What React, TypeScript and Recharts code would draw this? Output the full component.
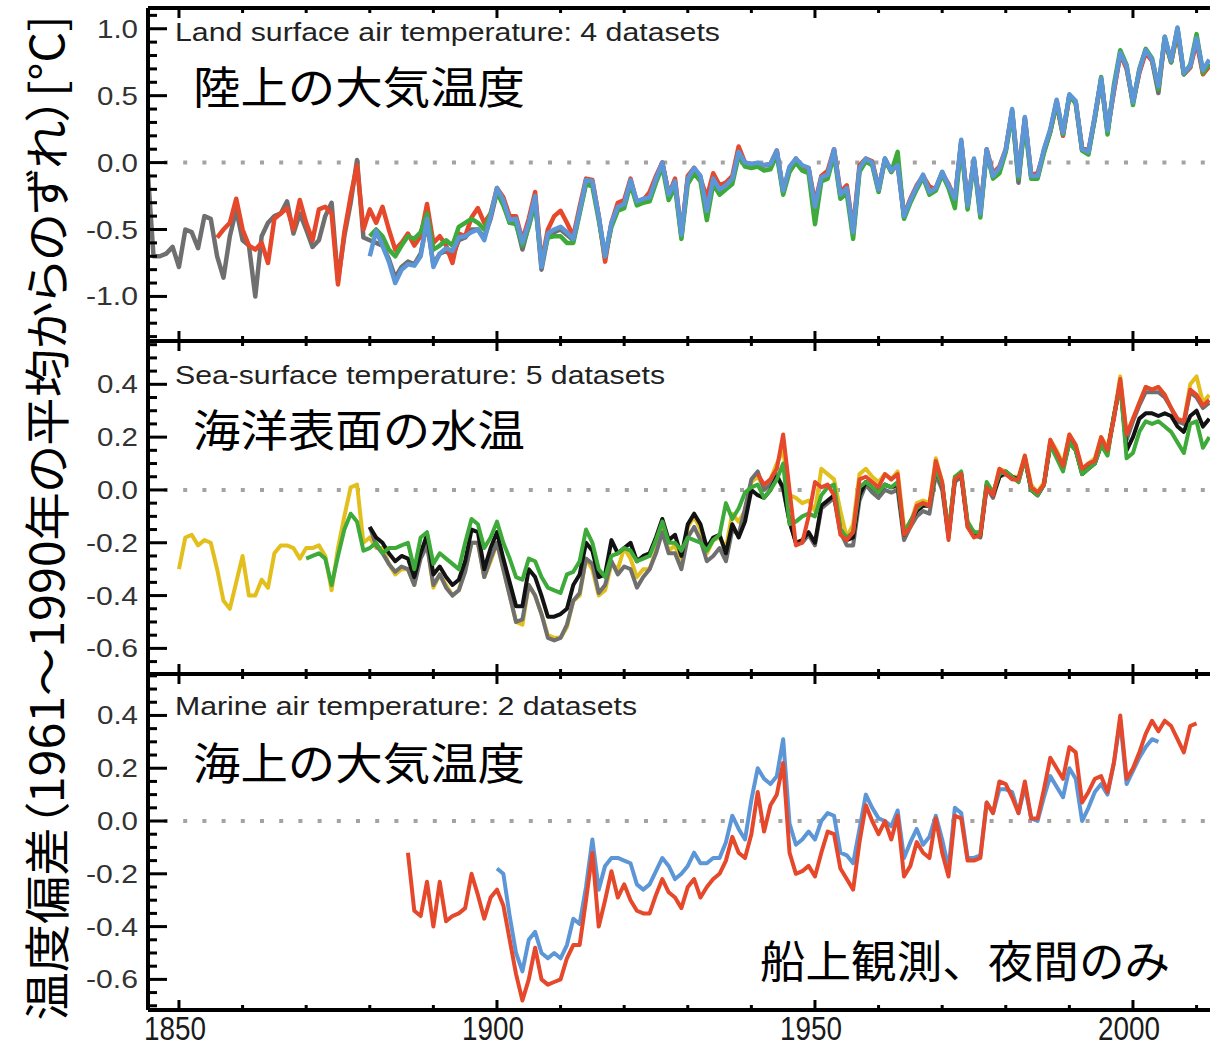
import { LineChart, Line, XAxis, YAxis, ReferenceLine } from 'recharts';

// ---- x axis ----
const years: number[] = Array.from({ length: 168 }, (_, i) => 1845 + i); // 1845..2012
const xTicks = [1850, 1860, 1870, 1880, 1890, 1900, 1910, 1920, 1930, 1940, 1950, 1960, 1970, 1980, 1990, 2000, 2010];

// ---- y ticks ----
const landTicks = [-1.3, -1.2, -1.1, -1.0, -0.9, -0.8, -0.7, -0.6, -0.5, -0.4, -0.3, -0.2, -0.1, 0, 0.1, 0.2, 0.3, 0.4, 0.5, 0.6, 0.7, 0.8, 0.9, 1.0, 1.1];
const sstTicks = [-0.65, -0.6, -0.55, -0.5, -0.45, -0.4, -0.35, -0.3, -0.25, -0.2, -0.15, -0.1, -0.05, 0, 0.05, 0.1, 0.15, 0.2, 0.25, 0.3, 0.35, 0.4, 0.45, 0.5, 0.55];
const nmatTicks = [-0.7, -0.65, -0.6, -0.55, -0.5, -0.45, -0.4, -0.35, -0.3, -0.25, -0.2, -0.15, -0.1, -0.05, 0, 0.05, 0.1, 0.15, 0.2, 0.25, 0.3, 0.35, 0.4, 0.45, 0.5, 0.55];

// ---- land surface air temperature (4 datasets) ----
const landGrayStart = 1845;
const landGray = [
  0.00, -0.70, -0.70, -0.68, -0.63, // 1845
  -0.78, -0.50, -0.52, -0.64, -0.40, -0.42, -0.70, -0.86, -0.55, -0.35, // 1850
  -0.58, -0.62, -1.00, -0.55, -0.45, -0.40, -0.38, -0.29, -0.53, -0.38, // 1860
  -0.50, -0.63, -0.58, -0.40, -0.30, -0.88, -0.55, -0.30, 0.02, -0.56, // 1870
  -0.58, -0.60, -0.62, -0.72, -0.86, -0.78, -0.74, -0.76, -0.68, -0.45, // 1880
  -0.76, -0.68, -0.66, -0.70, -0.58, -0.56, -0.50, -0.50, -0.56, -0.42, // 1890
  -0.22, -0.30, -0.45, -0.45, -0.65, -0.47, -0.27, -0.80, -0.55, -0.52, // 1900
  -0.50, -0.54, -0.58, -0.37, -0.15, -0.15, -0.41, -0.71, -0.46, -0.33, // 1910
  -0.31, -0.14, -0.30, -0.28, -0.25, -0.12, 0.00, -0.23, -0.15, -0.55, // 1920
  -0.12, -0.05, -0.11, -0.38, -0.13, -0.21, -0.17, -0.12, 0.07, 0.00, // 1930
  -0.01, -0.01, -0.02, -0.02, 0.08, -0.22, -0.04, 0.02, -0.03, -0.05, // 1940
  -0.36, -0.12, -0.09, 0.09, -0.25, -0.20, -0.53, -0.05, 0.02, 0.00, // 1950
  -0.21, 0.03, -0.07, -0.01, -0.41, -0.29, -0.19, -0.10, -0.23, -0.19, // 1960
  -0.07, -0.18, -0.28, 0.16, -0.33, 0.02, -0.38, 0.09, -0.11, -0.05, // 1970
  0.09, 0.39, -0.15, 0.33, -0.11, -0.11, 0.09, 0.24, 0.46, 0.21, // 1980
  0.50, 0.45, 0.09, 0.07, 0.34, 0.62, 0.23, 0.54, 0.81, 0.71, // 1990
  0.45, 0.68, 0.84, 0.76, 0.52, 0.93, 0.75, 1.00, 0.66, 0.71, // 2000
  0.93, 0.67, 0.72, // 2010
];

const landRedStart = 1856;
const landRed = [
  -0.56, -0.50, -0.45, -0.27, // 1856
  -0.50, -0.62, -0.65, -0.60, -0.75, -0.42, -0.38, -0.34, -0.50, -0.28, // 1860
  -0.45, -0.58, -0.35, -0.33, -0.38, -0.91, -0.52, -0.25, -0.02, -0.50, // 1870
  -0.35, -0.45, -0.33, -0.50, -0.65, -0.60, -0.53, -0.62, -0.55, -0.31, // 1880
  -0.60, -0.55, -0.62, -0.75, -0.53, -0.55, -0.41, -0.34, -0.45, -0.38, // 1890
  -0.19, -0.26, -0.40, -0.40, -0.58, -0.42, -0.22, -0.75, -0.50, -0.40, // 1900
  -0.36, -0.45, -0.55, -0.33, -0.12, -0.13, -0.40, -0.74, -0.45, -0.30, // 1910
  -0.28, -0.12, -0.30, -0.28, -0.22, -0.10, 0.00, -0.24, -0.12, -0.54, // 1920
  -0.10, -0.04, -0.12, -0.26, -0.08, -0.17, -0.15, -0.10, 0.12, 0.00, // 1930
  -0.03, -0.03, -0.02, -0.01, 0.09, -0.21, -0.06, 0.03, -0.05, -0.04, // 1940
  -0.30, -0.10, -0.06, 0.10, -0.22, -0.17, -0.50, -0.02, 0.03, 0.01, // 1950
  -0.19, 0.02, -0.06, 0.00, -0.39, -0.27, -0.17, -0.10, -0.18, -0.20, // 1960
  -0.08, -0.16, -0.27, 0.15, -0.30, 0.02, -0.36, 0.10, -0.08, -0.03, // 1970
  0.10, 0.38, -0.08, 0.33, -0.09, -0.08, 0.08, 0.23, 0.44, 0.20, // 1980
  0.50, 0.45, 0.11, 0.09, 0.33, 0.62, 0.25, 0.53, 0.81, 0.70, // 1990
  0.45, 0.67, 0.82, 0.76, 0.57, 0.91, 0.75, 0.97, 0.66, 0.71, // 2000
  0.90, 0.66, 0.72, // 2010
];

const landGreenStart = 1880;
const landGreen = [
  -0.55, -0.50, -0.55, -0.65, -0.70, -0.62, -0.55, -0.57, -0.52, -0.38, // 1880
  -0.65, -0.62, -0.58, -0.62, -0.48, -0.45, -0.42, -0.45, -0.50, -0.38, // 1890
  -0.22, -0.32, -0.45, -0.46, -0.62, -0.48, -0.30, -0.75, -0.56, -0.55, // 1900
  -0.55, -0.60, -0.60, -0.38, -0.16, -0.18, -0.43, -0.70, -0.48, -0.36, // 1910
  -0.34, -0.16, -0.32, -0.30, -0.29, -0.15, -0.03, -0.28, -0.18, -0.57, // 1920
  -0.16, -0.08, -0.14, -0.43, -0.16, -0.24, -0.20, -0.16, 0.05, -0.03, // 1930
  -0.04, -0.03, -0.06, -0.05, 0.06, -0.24, -0.07, 0.00, -0.06, -0.08, // 1940
  -0.46, -0.14, -0.12, 0.06, -0.27, -0.23, -0.57, -0.07, 0.01, -0.02, // 1950
  -0.22, 0.02, -0.07, 0.08, -0.42, -0.30, -0.20, -0.11, -0.24, -0.21, // 1960
  -0.09, -0.19, -0.34, 0.14, -0.35, 0.01, -0.41, 0.08, -0.12, -0.08, // 1970
  0.08, 0.37, -0.12, 0.29, -0.12, -0.12, 0.07, 0.23, 0.45, 0.21, // 1980
  0.50, 0.44, 0.09, 0.06, 0.33, 0.64, 0.21, 0.58, 0.84, 0.73, // 1990
  0.43, 0.70, 0.85, 0.78, 0.55, 0.94, 0.75, 1.00, 0.66, 0.73, // 2000
  0.96, 0.67, 0.74, // 2010
];

const landBlueStart = 1880;
const landBlue = [
  -0.70, -0.51, -0.62, -0.74, -0.90, -0.80, -0.76, -0.77, -0.70, -0.42, // 1880
  -0.78, -0.68, -0.64, -0.66, -0.56, -0.55, -0.52, -0.50, -0.58, -0.40, // 1890
  -0.19, -0.28, -0.43, -0.42, -0.60, -0.45, -0.25, -0.78, -0.53, -0.50, // 1900
  -0.48, -0.52, -0.57, -0.36, -0.13, -0.14, -0.40, -0.70, -0.45, -0.33, // 1910
  -0.31, -0.13, -0.29, -0.27, -0.26, -0.12, 0.00, -0.24, -0.14, -0.54, // 1920
  -0.12, -0.04, -0.10, -0.36, -0.12, -0.20, -0.17, -0.12, 0.08, 0.00, // 1930
  -0.01, 0.00, -0.02, -0.01, 0.09, -0.21, -0.03, 0.03, -0.02, -0.04, // 1940
  -0.33, -0.11, -0.09, 0.10, -0.24, -0.19, -0.52, -0.04, 0.03, 0.00, // 1950
  -0.20, 0.03, -0.06, -0.02, -0.40, -0.28, -0.18, -0.09, -0.22, -0.19, // 1960
  -0.07, -0.17, -0.27, 0.17, -0.32, 0.03, -0.38, 0.10, -0.10, -0.04, // 1970
  0.10, 0.40, -0.10, 0.34, -0.10, -0.10, 0.10, 0.25, 0.47, 0.22, // 1980
  0.51, 0.46, 0.10, 0.08, 0.35, 0.63, 0.24, 0.55, 0.82, 0.72, // 1990
  0.45, 0.69, 0.84, 0.77, 0.57, 0.94, 0.76, 1.01, 0.67, 0.72, // 2000
  0.93, 0.69, 0.77, // 2010
];

// ---- sea-surface temperature (5 datasets) ----
const sstYellowStart = 1850;
const sstYellow = [
  -0.30, -0.18, -0.17, -0.21, -0.19, -0.20, -0.30, -0.42, -0.45, -0.35, // 1850
  -0.25, -0.40, -0.40, -0.34, -0.37, -0.24, -0.21, -0.21, -0.22, -0.26, // 1860
  -0.22, -0.22, -0.21, -0.25, -0.38, -0.22, -0.10, 0.01, 0.02, -0.20, // 1870
  -0.18, -0.22, -0.22, -0.28, -0.32, -0.30, -0.30, -0.36, -0.22, -0.20, // 1880
  -0.37, -0.32, -0.36, -0.40, -0.38, -0.30, -0.20, -0.20, -0.33, -0.27, // 1890
  -0.20, -0.30, -0.40, -0.50, -0.51, -0.36, -0.40, -0.47, -0.55, -0.56, // 1900
  -0.56, -0.52, -0.42, -0.40, -0.26, -0.30, -0.40, -0.38, -0.28, -0.30, // 1910
  -0.22, -0.26, -0.33, -0.30, -0.30, -0.23, -0.15, -0.23, -0.21, -0.28, // 1920
  -0.14, -0.10, -0.15, -0.24, -0.19, -0.18, -0.22, -0.09, -0.12, -0.08, // 1930
  0.03, 0.05, 0.01, 0.04, 0.10, 0.15, -0.02, -0.03, -0.05, -0.04, // 1940
  -0.08, 0.08, 0.06, 0.04, -0.08, -0.18, -0.13, 0.06, 0.08, 0.05, // 1950
  0.03, 0.06, 0.04, 0.07, -0.14, -0.13, -0.05, -0.04, -0.05, 0.12, // 1960
  0.03, -0.17, 0.05, 0.06, -0.13, -0.17, -0.18, 0.02, -0.02, 0.08, // 1970
  0.07, 0.05, 0.05, 0.13, 0.02, -0.01, 0.03, 0.19, 0.15, 0.10, // 1980
  0.21, 0.17, 0.08, 0.10, 0.12, 0.20, 0.16, 0.28, 0.43, 0.21, // 1990
  0.27, 0.33, 0.39, 0.38, 0.39, 0.36, 0.31, 0.26, 0.26, 0.40, // 2000
  0.43, 0.33, 0.36, // 2010
];

const sstGrayStart = 1880;
const sstGray = [
  -0.14, -0.21, -0.24, -0.28, -0.31, -0.29, -0.30, -0.36, -0.26, -0.21, // 1880
  -0.36, -0.32, -0.37, -0.40, -0.38, -0.31, -0.20, -0.20, -0.33, -0.26, // 1890
  -0.20, -0.30, -0.40, -0.50, -0.49, -0.36, -0.40, -0.47, -0.56, -0.57, // 1900
  -0.56, -0.51, -0.42, -0.39, -0.26, -0.28, -0.39, -0.36, -0.27, -0.32, // 1910
  -0.29, -0.30, -0.37, -0.33, -0.30, -0.24, -0.16, -0.24, -0.24, -0.30, // 1920
  -0.18, -0.14, -0.19, -0.27, -0.25, -0.22, -0.27, -0.15, -0.17, -0.07, // 1930
  0.04, 0.07, 0.00, 0.02, 0.06, 0.00, -0.12, -0.20, -0.20, -0.17, // 1940
  -0.21, -0.07, -0.05, -0.03, -0.16, -0.21, -0.21, -0.04, 0.02, -0.01, // 1950
  -0.03, 0.00, -0.01, 0.00, -0.19, -0.14, -0.10, -0.08, -0.09, 0.06, // 1960
  0.00, -0.18, 0.03, 0.05, -0.14, -0.17, -0.18, 0.01, -0.03, 0.05, // 1970
  0.06, 0.05, 0.03, 0.12, 0.00, -0.02, 0.02, 0.18, 0.14, 0.09, // 1980
  0.20, 0.16, 0.07, 0.09, 0.11, 0.19, 0.15, 0.27, 0.41, 0.19, // 1990
  0.26, 0.32, 0.37, 0.37, 0.37, 0.35, 0.31, 0.26, 0.25, 0.37, // 2000
  0.35, 0.31, 0.33, // 2010
];

const sstBlackStart = 1880;
const sstBlack = [
  -0.14, -0.18, -0.20, -0.24, -0.27, -0.25, -0.26, -0.33, -0.24, -0.17, // 1880
  -0.32, -0.29, -0.33, -0.36, -0.34, -0.27, -0.15, -0.16, -0.30, -0.22, // 1890
  -0.16, -0.26, -0.35, -0.44, -0.44, -0.30, -0.33, -0.40, -0.48, -0.48, // 1900
  -0.47, -0.45, -0.36, -0.32, -0.20, -0.23, -0.33, -0.32, -0.19, -0.24, // 1910
  -0.22, -0.20, -0.27, -0.25, -0.24, -0.18, -0.11, -0.19, -0.17, -0.25, // 1920
  -0.13, -0.09, -0.13, -0.22, -0.18, -0.17, -0.24, -0.13, -0.18, -0.12, // 1930
  0.00, -0.02, -0.03, 0.00, 0.05, 0.01, -0.12, -0.20, -0.19, -0.16, // 1940
  -0.20, -0.06, -0.04, -0.02, -0.15, -0.19, -0.18, -0.02, 0.03, 0.01, // 1950
  -0.01, 0.02, 0.01, 0.02, -0.17, -0.12, -0.08, -0.06, -0.06, 0.08, // 1960
  0.02, -0.17, 0.04, 0.06, -0.13, -0.16, -0.17, 0.02, -0.02, 0.05, // 1970
  0.07, 0.05, 0.04, 0.12, 0.00, -0.02, 0.02, 0.17, 0.13, 0.08, // 1980
  0.18, 0.15, 0.06, 0.08, 0.10, 0.17, 0.14, 0.28, 0.40, 0.15, // 1990
  0.20, 0.27, 0.29, 0.29, 0.28, 0.29, 0.28, 0.24, 0.22, 0.28, // 2000
  0.30, 0.24, 0.27, // 2010
];

const sstGreenStart = 1870;
const sstGreen = [
  -0.26, -0.25, -0.24, -0.26, -0.36, -0.25, -0.15, -0.09, -0.12, -0.23, // 1870
  -0.22, -0.20, -0.24, -0.22, -0.22, -0.21, -0.20, -0.30, -0.18, -0.16, // 1880
  -0.28, -0.24, -0.26, -0.28, -0.30, -0.20, -0.11, -0.13, -0.22, -0.18, // 1890
  -0.12, -0.20, -0.26, -0.33, -0.34, -0.26, -0.27, -0.33, -0.37, -0.38, // 1900
  -0.39, -0.32, -0.31, -0.27, -0.15, -0.20, -0.30, -0.33, -0.25, -0.24, // 1910
  -0.22, -0.23, -0.27, -0.26, -0.25, -0.19, -0.12, -0.20, -0.20, -0.23, // 1920
  -0.18, -0.19, -0.20, -0.23, -0.19, -0.17, -0.05, -0.11, -0.07, -0.01, // 1930
  0.01, 0.02, -0.03, 0.00, 0.04, 0.10, -0.13, -0.12, -0.10, -0.09, // 1940
  -0.10, -0.02, 0.01, 0.02, -0.15, -0.18, -0.16, 0.01, 0.03, 0.01, // 1950
  -0.01, 0.02, 0.01, 0.03, -0.16, -0.12, -0.07, -0.05, -0.06, 0.08, // 1960
  0.02, -0.16, 0.05, 0.07, -0.12, -0.16, -0.16, 0.03, -0.01, 0.06, // 1970
  0.07, 0.05, 0.03, 0.12, 0.00, -0.02, 0.02, 0.17, 0.12, 0.07, // 1980
  0.18, 0.15, 0.06, 0.08, 0.10, 0.17, 0.13, 0.28, 0.40, 0.12, // 1990
  0.14, 0.22, 0.26, 0.25, 0.26, 0.24, 0.22, 0.18, 0.14, 0.25, // 2000
  0.26, 0.16, 0.20, // 2010
];

const sstRedStart = 1941;
const sstRed = [
  0.06, 0.02, 0.04, 0.08, 0.21, 0.00, -0.21, -0.20, -0.10, // 1941
  0.03, 0.01, 0.02, -0.02, -0.17, -0.19, -0.16, 0.04, 0.05, 0.03, // 1950
  0.01, 0.06, 0.04, 0.06, -0.17, -0.14, -0.06, -0.05, -0.06, 0.11, // 1960
  0.03, -0.19, 0.04, 0.06, -0.14, -0.18, -0.17, 0.01, -0.02, 0.08, // 1970
  0.06, 0.04, 0.04, 0.13, 0.01, -0.01, 0.02, 0.19, 0.14, 0.09, // 1980
  0.21, 0.17, 0.08, 0.10, 0.11, 0.20, 0.15, 0.27, 0.42, 0.21, // 1990
  0.27, 0.33, 0.39, 0.38, 0.39, 0.36, 0.31, 0.27, 0.26, 0.38, // 2000
  0.36, 0.32, 0.34, // 2010
];

// ---- marine air temperature (2 datasets) ----
const nmatRedStart = 1886;
const nmatRed = [
  -0.12, -0.34, -0.36, -0.23, // 1886
  -0.40, -0.23, -0.38, -0.36, -0.35, -0.33, -0.20, -0.28, -0.37, -0.29, // 1890
  -0.26, -0.32, -0.45, -0.58, -0.68, -0.60, -0.48, -0.60, -0.62, -0.61, // 1900
  -0.60, -0.52, -0.47, -0.47, -0.30, -0.12, -0.40, -0.30, -0.19, -0.29, // 1910
  -0.24, -0.30, -0.34, -0.35, -0.35, -0.28, -0.22, -0.27, -0.29, -0.33, // 1920
  -0.25, -0.22, -0.29, -0.25, -0.22, -0.20, -0.15, -0.06, -0.12, -0.14, // 1930
  -0.05, 0.11, -0.04, 0.06, 0.10, 0.22, -0.12, -0.20, -0.19, -0.17, // 1940
  -0.21, -0.12, -0.04, -0.05, -0.18, -0.22, -0.26, -0.08, 0.06, 0.00, // 1950
  -0.05, 0.00, -0.07, 0.02, -0.21, -0.17, -0.08, -0.12, -0.14, 0.01, // 1960
  -0.12, -0.21, 0.02, 0.01, -0.15, -0.15, -0.14, 0.07, 0.03, 0.15, // 1970
  0.14, 0.09, 0.03, 0.15, 0.01, 0.01, 0.12, 0.24, 0.20, 0.16, // 1980
  0.28, 0.26, 0.07, 0.11, 0.16, 0.17, 0.11, 0.22, 0.40, 0.16, // 1990
  0.20, 0.26, 0.33, 0.38, 0.34, 0.38, 0.36, 0.31, 0.26, 0.36, // 2000
  0.37, // 2010
];

const nmatBlueStart = 1900;
const nmatBlue = [
  -0.18, -0.20, -0.36, -0.50, -0.57, -0.45, -0.42, -0.50, -0.52, -0.50, // 1900
  -0.52, -0.47, -0.37, -0.39, -0.25, -0.07, -0.26, -0.17, -0.14, -0.14, // 1910
  -0.15, -0.16, -0.24, -0.26, -0.24, -0.19, -0.14, -0.17, -0.22, -0.20, // 1920
  -0.17, -0.12, -0.16, -0.16, -0.14, -0.14, -0.08, 0.02, -0.03, -0.07, // 1930
  0.08, 0.20, 0.16, 0.14, 0.17, 0.31, -0.01, -0.09, -0.07, -0.04, // 1940
  -0.07, 0.00, 0.03, 0.02, -0.12, -0.13, -0.16, -0.03, 0.10, 0.05, // 1950
  0.01, 0.00, -0.02, 0.04, -0.14, -0.08, -0.03, -0.09, -0.06, 0.02, // 1960
  -0.07, -0.18, 0.05, 0.03, -0.14, -0.14, -0.13, 0.07, 0.03, 0.12, // 1970
  0.12, 0.11, 0.03, 0.13, 0.01, 0.00, 0.09, 0.17, 0.13, 0.09, // 1980
  0.20, 0.16, 0.00, 0.05, 0.11, 0.14, 0.10, 0.22, 0.38, 0.14, // 1990
  0.19, 0.24, 0.28, 0.31, 0.30, // 2000
];

const at = (start: number, vals: number[], year: number) => {
  const i = year - start;
  return i >= 0 && i < vals.length ? vals[i] : null;
};

const landData = years.map((year) => ({
  year,
  gray: at(landGrayStart, landGray, year),
  red: at(landRedStart, landRed, year),
  green: at(landGreenStart, landGreen, year),
  blue: at(landBlueStart, landBlue, year),
}));

const sstData = years.map((year) => ({
  year,
  yellow: at(sstYellowStart, sstYellow, year),
  gray: at(sstGrayStart, sstGray, year),
  black: at(sstBlackStart, sstBlack, year),
  green: at(sstGreenStart, sstGreen, year),
  red: at(sstRedStart, sstRed, year),
}));

const nmatData = years.map((year) => ({
  year,
  blue: at(nmatBlueStart, nmatBlue, year),
  red: at(nmatRedStart, nmatRed, year),
}));

const RED = '#e5482b';
const GREEN = '#3daa3a';
const BLUE = '#5c96d6';
const GRAY = '#6f6f6f';
const YELLOW = '#e3bf1e';
const BLACK = '#121212';

const CHART_W = 1240;
const Y_AXIS_W = 148;
const X_DOMAIN: [number, number] = [1845.13, 2015.1];
const LATIN = '"Liberation Sans", Arial, sans-serif';
const JP = '"Noto Sans CJK JP", sans-serif';

// panel layout: plot top, plot height, y domain, ticks, major step
const LAND = { top: 8, h: 333, domain: [-1.333, 1.155] as [number, number], ticks: landTicks, step: 0.5 };
const SST = { top: 341, h: 333, domain: [-0.697, 0.564] as [number, number], ticks: sstTicks, step: 0.2 };
const NMAT = { top: 674, h: 336, domain: [-0.716, 0.557] as [number, number], ticks: nmatTicks, step: 0.2 };

const isMajor = (v: number, step: number) => Math.abs(v / step - Math.round(v / step)) < 1e-6;

const BottomTick = (props: any) => {
  const { x, y, payload, labels } = props;
  const major = payload.value % 50 === 0;
  return (
    <g>
      <path d={`M${x},${y}V${y - (major ? 10 : 5)}`} stroke="#000" strokeWidth={3} />
      {labels && major && (
        <text x={x - 4} y={y + 30} textAnchor="middle" fontSize={33}
          fontFamily='"Liberation Sans Narrow", "Arial Narrow", "Liberation Sans", sans-serif'
          fill="#1a1a1a" textLength={62} lengthAdjust="spacingAndGlyphs">
          {payload.value}
        </text>
      )}
    </g>
  );
};

const TopTick = (props: any) => {
  const { x, y, payload } = props;
  const major = payload.value % 50 === 0;
  return <path d={`M${x},${y}V${y + (major ? 10 : 5)}`} stroke="#000" strokeWidth={3} />;
};

const LeftLabel = (props: any) => {
  const { y, payload, step } = props;
  const v: number = payload.value;
  if (!isMajor(v, step)) return <g />;
  const label = v.toFixed(1);
  return (
    <text x={138} y={y} dy="0.36em" textAnchor="end" fontSize={25} fontFamily={LATIN} fill="#333"
      textLength={label.length === 3 ? 41 : 52} lengthAdjust="spacingAndGlyphs">
      {label}
    </text>
  );
};

// inward y tick marks, placed with the same linear mapping as the panel's y axis
const YTickMarks = ({ p }: { p: typeof LAND }) => {
  const [lo, hi] = p.domain;
  return (
    <g>
      {p.ticks.map((v) => {
        const y = p.top + ((hi - v) / (hi - lo)) * p.h;
        const len = isMajor(v, p.step) ? 19 : 9;
        return <rect key={v} x={Y_AXIS_W - 1} y={y - 1.5} width={len + 1} height={3} fill="#000" />;
      })}
    </g>
  );
};

type SeriesDef = { key: string; color: string; width: number };

const Panel = (props: { p: typeof LAND; data: any[]; lines: SeriesDef[]; bottomLabels: boolean }) => {
  const { p, data, lines, bottomLabels } = props;
  const xAxisH = bottomLabels ? 38 : 1;
  const mb = bottomLabels ? 0 : 3;
  const height = 3 + 1 + p.h + xAxisH + mb;
  const frame = { stroke: '#000', strokeWidth: 4 };
  return (
    <div style={{ position: 'absolute', left: 0, top: p.top - 4 }}>
      <LineChart width={CHART_W} height={height} data={data} margin={{ top: 3, right: 11, bottom: mb, left: 0 }}>
        <XAxis dataKey="year" type="number" domain={X_DOMAIN} allowDataOverflow ticks={xTicks} interval={0}
          height={xAxisH} tickSize={0} tickMargin={0} axisLine={frame} tickLine={false}
          tick={(t: any) => <BottomTick {...t} labels={bottomLabels} />} />
        <XAxis xAxisId="top" orientation="top" dataKey="year" type="number" domain={X_DOMAIN} allowDataOverflow
          ticks={xTicks} interval={0} height={1} tickSize={0} tickMargin={0} axisLine={frame} tickLine={false}
          tick={(t: any) => <TopTick {...t} />} />
        <YAxis type="number" domain={p.domain} allowDataOverflow ticks={p.ticks} interval={0} width={Y_AXIS_W}
          tickSize={0} tickMargin={0} axisLine={frame} tickLine={false}
          tick={(t: any) => <LeftLabel {...t} step={p.step} />} />
        <ReferenceLine y={0} stroke="#a3a3a3" strokeWidth={4} strokeDasharray="4 15.2" strokeDashoffset={-16} />
        {lines.map((s) => (
          <Line key={s.key} type="linear" dataKey={s.key} stroke={s.color} strokeWidth={s.width}
            strokeLinejoin="round" dot={false} activeDot={false} isAnimationActive={false} />
        ))}
      </LineChart>
    </div>
  );
};

export default function App() {
  return (
    <div style={{ position: 'absolute', left: 0, top: 0, width: 1210, height: 1048, overflow: 'hidden', background: '#fff' }}>
      <Panel p={LAND} data={landData} bottomLabels={false}
        lines={[
          { key: 'gray', color: GRAY, width: 4.5 },
          { key: 'red', color: RED, width: 4.5 },
          { key: 'green', color: GREEN, width: 4.5 },
          { key: 'blue', color: BLUE, width: 4.5 },
        ]} />
      <Panel p={SST} data={sstData} bottomLabels={false}
        lines={[
          { key: 'yellow', color: YELLOW, width: 4 },
          { key: 'gray', color: GRAY, width: 4 },
          { key: 'black', color: BLACK, width: 4 },
          { key: 'green', color: GREEN, width: 4 },
          { key: 'red', color: RED, width: 4 },
        ]} />
      <Panel p={NMAT} data={nmatData} bottomLabels
        lines={[
          { key: 'blue', color: BLUE, width: 4 },
          { key: 'red', color: RED, width: 4 },
        ]} />

      <svg width={1210} height={1048} style={{ position: 'absolute', left: 0, top: 0, pointerEvents: 'none' }}>
        <YTickMarks p={LAND} />
        <YTickMarks p={SST} />
        <YTickMarks p={NMAT} />

        <text x={175} y={41} fontSize={26} fontFamily={LATIN} fill="#222" textLength={545} lengthAdjust="spacingAndGlyphs">
          Land surface air temperature: 4 datasets
        </text>
        <text x={175} y={384} fontSize={26} fontFamily={LATIN} fill="#222" textLength={490} lengthAdjust="spacingAndGlyphs">
          Sea-surface temperature: 5 datasets
        </text>
        <text x={175} y={715} fontSize={26} fontFamily={LATIN} fill="#222" textLength={462} lengthAdjust="spacingAndGlyphs">
          Marine air temperature: 2 datasets
        </text>

        <text x={193} y={104} fontSize={44} fontFamily={JP} fill="#000" textLength={332} lengthAdjust="spacingAndGlyphs">
          陸上の大気温度
        </text>
        <text x={193} y={447} fontSize={44} fontFamily={JP} fill="#000" textLength={332} lengthAdjust="spacingAndGlyphs">
          海洋表面の水温
        </text>
        <text x={193} y={780} fontSize={44} fontFamily={JP} fill="#000" textLength={332} lengthAdjust="spacingAndGlyphs">
          海上の大気温度
        </text>
        <text x={760} y={978} fontSize={44} fontFamily={JP} fill="#000" textLength={410} lengthAdjust="spacingAndGlyphs">
          船上観測、夜間のみ
        </text>

        <text transform="translate(64, 518) rotate(-90)" x={0} y={0} textAnchor="middle" fontSize={46} fontFamily={JP}
          fill="#000" textLength={1005} lengthAdjust="spacingAndGlyphs" style={{ fontFeatureSettings: '"palt"' }}>
          温度偏差（1961～1990年の平均からのずれ）[°C]
        </text>
      </svg>
    </div>
  );
}
